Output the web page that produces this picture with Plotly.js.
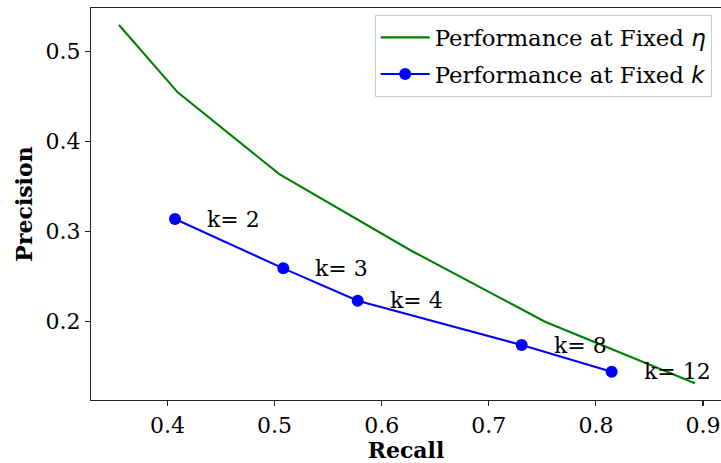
<!DOCTYPE html>
<html>
<head>
<meta charset="utf-8">
<script src="https://cdn.plot.ly/plotly-3.0.1.min.js"></script>
<style>html,body{margin:0;padding:0;background:#fff;}#chart{width:721px;height:463px;}</style>
</head>
<body>
<div id="chart"></div>
<script>
// Data
const etaRecall    = [0.3547, 0.4095, 0.5044, 0.6264, 0.7525, 0.8925];
const etaPrecision = [0.5297, 0.4549, 0.3640, 0.2797, 0.2000, 0.1316];
const kRecall      = [0.407, 0.5081, 0.5776, 0.7307, 0.8147];
const kPrecision   = [0.3141, 0.2593, 0.2233, 0.1741, 0.1444];
const kLabels      = ['k= 2', 'k= 3', 'k= 4', 'k= 8', 'k= 12'];
const xTicks = [0.4, 0.5, 0.6, 0.7, 0.8, 0.9];
const yTicks = [0.2, 0.3, 0.4, 0.5];

const FONT = 'DejaVu Serif, serif';
const labelOffset = 0.03;

const traces = [
  {x: etaRecall, y: etaPrecision, mode: 'lines', type: 'scatter',
   name: 'Performance at Fixed <span style="font-family:DejaVu Sans"><i>η</i></span>',
   line: {color: '#008000', width: 2.1}, legendgroup: 'a'},
  {x: kRecall, y: kPrecision, mode: 'lines+markers', type: 'scatter',
   name: 'Performance at Fixed <span style="font-family:DejaVu Sans"><i>k</i></span>',
   line: {color: '#0000ff', width: 2.1}, marker: {color: '#0000ff', size: 12},
   legendgroup: 'b'}
];

const annotations = kLabels.map((t, i) => ({
  x: kRecall[i] + labelOffset, y: kPrecision[i], xref: 'x', yref: 'y',
  text: t, showarrow: false, xanchor: 'left', yanchor: 'middle', xshift: -2,
  font: {family: FONT, size: 22, color: '#000'}
}));

const layout = {
  width: 721, height: 463,
  margin: {l: 91, r: 0, t: 8, b: 63},
  paper_bgcolor: '#fff', plot_bgcolor: '#fff',
  font: {family: FONT, size: 22, color: '#000'},
  showlegend: true,
  legend: {x: 0.9852, y: 0.982, xanchor: 'right', yanchor: 'top',
    bgcolor: 'rgba(255,255,255,0.8)', bordercolor: '#cccccc', borderwidth: 1,
    font: {family: FONT, size: 22.8, color: '#000'},
    traceorder: 'grouped', tracegroupgap: 4, itemwidth: 49},
  xaxis: {range: [0.32857, 0.91681], tickvals: xTicks, ticktext: xTicks.map(v => v.toFixed(1)),
    showgrid: false, zeroline: false, showline: true, mirror: true,
    linecolor: '#222', linewidth: 1.1, ticks: 'outside', ticklen: 5, tickwidth: 1.1, tickcolor: '#222',
    tickfont: {family: FONT, size: 22, color: '#000'},
    title: {text: '<b>Recall</b>', font: {family: FONT, size: 22, color: '#000'}, standoff: 7},
    automargin: false},
  yaxis: {range: [0.1130, 0.5486], tickvals: yTicks, ticktext: yTicks.map(v => v.toFixed(1)),
    showgrid: false, zeroline: false, showline: true, mirror: false,
    linecolor: '#222', linewidth: 1.1, ticks: 'outside', ticklen: 5, tickwidth: 1.1, tickcolor: '#222',
    tickfont: {family: FONT, size: 22, color: '#000'},
    title: {text: '<b>Precision</b>', font: {family: FONT, size: 22, color: '#000'}, standoff: 6},
    automargin: false},
  annotations: annotations
};

Plotly.newPlot('chart', traces, layout, {displayModeBar: false, staticPlot: true});
</script>
</body>
</html>
